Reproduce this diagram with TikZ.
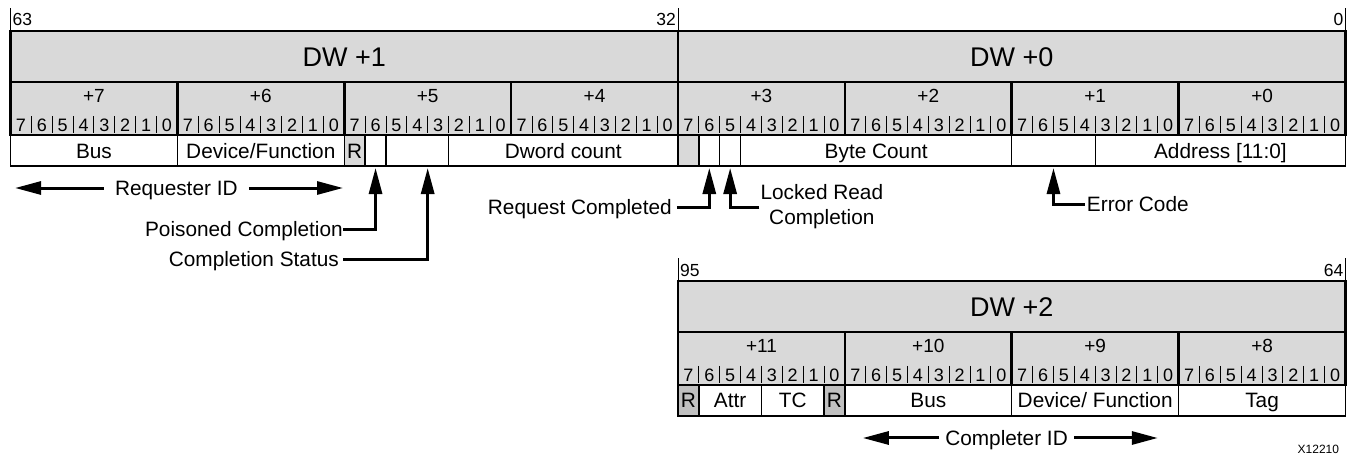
\documentclass[tikz,border=0pt]{standalone}
\usepackage{fontspec}
\setmainfont{Liberation Sans}
\usetikzlibrary{arrows.meta}
\definecolor{hdrgray}{RGB}{217,217,217}
\definecolor{rsvgray}{RGB}{192,192,192}

\tikzset{
  hdr/.style={fill=hdrgray, line width=2.6pt},
  fld/.style={line width=1.3pt},
  rsvd/.style={fld, fill=hdrgray},
  rsvdark/.style={fld, fill=rsvgray},
  bitsep/.style={line width=0.9pt},
  tick/.style={line width=1pt},
  conn/.style={line width=3pt, -{Triangle[length=26pt,width=13pt]}},
  dwtxt/.style={font=\fontsize{27}{32}\selectfont},
  bytetxt/.style={font=\fontsize{19}{22}\selectfont},
  bittxt/.style={font=\fontsize{18}{20}\selectfont, inner sep=0pt},
  lbltxt/.style={font=\fontsize{20.8}{25}\selectfont, inner sep=0pt},
  fldtxt/.style={lbltxt, text height=15pt, text depth=0pt},
  endtxt/.style={font=\fontsize{17.5}{20}\selectfont, inner sep=2pt},
}

\begin{document}
\begin{tikzpicture}[x=20.86pt, y=-1pt]
\useasboundingbox ([xshift=-10.5pt]0,0) rectangle ([xshift=10.5pt]64,456);

% Bit range markers
\draw[tick] (0,8) -- (0,31);
\draw[tick] (32,8) -- (32,31);
\draw[tick] (64,8) -- (64,31);
\node[endtxt, anchor=west] (b63) at (0,19) {63};
\node[endtxt, anchor=east] (b32) at (32,19) {32};
\node[endtxt, anchor=east] (b0) at (64,19) {0};

% DW +1 and DW +0
\draw[hdr] (0,31) rectangle (32,82);
\draw[hdr] (32,31) rectangle (64,82);
\node[dwtxt] (dw1) at (16,57) {DW +1};
\node[dwtxt] (dw0) at (48,57) {DW +0};

% Byte and bit numbers
\draw[hdr] (0,82) rectangle (64,135);
\foreach \b in {8,16,...,56} \draw[line width=2.6pt] (\b,82) -- (\b,135);
\foreach \i in {0,...,7} {
  \pgfmathtruncatemacro{\n}{7-\i}
  \node[bytetxt] (tbyte\n) at (\i*8+4,96) {+\n};
}
\foreach \c in {0,...,63} {
  \pgfmathtruncatemacro{\d}{7-mod(\c,8)}
  \node[bittxt] (tbit\c) at (\c+0.5,125) {\d};
}
\foreach \c in {1,...,63} {
  \pgfmathtruncatemacro{\m}{mod(\c,8)}
  \ifnum\m>0 \draw[bitsep] (\c,116) -- (\c,133); \fi
}

% Fields, DW +1
\draw[fld] (0,135) rectangle (8,166);
\draw[fld] (8,135) rectangle (16,166);
\draw[rsvd] (16,135) rectangle (17,166);
\draw[fld] (17,135) rectangle (18,166);
\draw[fld] (18,135) rectangle (21,166);
\draw[fld] (21,135) rectangle (32,166);
\node[fldtxt] (bus1) at (4,150.5) {Bus};
\node[fldtxt] (devfn1) at (12,150.5) {Device/Function};
\node[fldtxt] (rsv1) at (16.5,150.5) {R};
\node[fldtxt] (dwcnt) at (26.5,150.5) {Dword count};

% Fields, DW +0
\draw[rsvd] (32,135) rectangle (33,166);
\draw[fld] (33,135) rectangle (34,166);
\draw[fld] (34,135) rectangle (35,166);
\draw[fld] (35,135) rectangle (48,166);
\draw[fld] (48,135) rectangle (52,166);
\draw[fld] (52,135) rectangle (64,166);
\node[fldtxt] (bytecnt) at (41.5,150.5) {Byte Count};
\node[fldtxt] (addr) at (58,150.5) {Address [11:0]};

% Arrow targets
\coordinate (poisb) at (17.5,168);
\coordinate (statb) at (20,168);
\coordinate (reqb) at (33.5,168);
\coordinate (lockb) at (34.5,168);
\coordinate (errb) at (50,168);
\coordinate (reqL) at (0.22,188);
\coordinate (reqR) at (15.94,188);

% Labels and connectors
\node[fldtxt, inner xsep=11pt] (reqid) at (7.95,188) {Requester ID};
\draw[conn] (reqid.west) -- (reqL);
\draw[conn] (reqid.east) -- (reqR);
\node[fldtxt, anchor=east] (poison) at (15.94,229) {Poisoned Completion};
\draw[conn] (poison.east) -| (poisb);
\node[fldtxt, anchor=east, inner xsep=4pt] (cstat) at (15.94,259) {Completion Status};
\draw[conn] (cstat.east) -| (statb);
\node[fldtxt, anchor=east, inner xsep=5pt] (reqdone) at (31.95,207) {Request Completed};
\draw[conn] (reqdone.east) -| (reqb);
\node[lbltxt, anchor=west, align=center, inner xsep=1pt] (locked) at (35.9,207) {Locked Read\\Completion};
\draw[conn] (locked.west) -| (lockb);
\node[fldtxt, anchor=west, inner xsep=2pt] (errc) at (51.5,204) {Error Code};
\draw[conn] (errc.west) -| (errb);

% DW +2
\draw[tick] (32,258) -- (32,281);
\draw[tick] (64,258) -- (64,281);
\node[endtxt, anchor=west] (b95) at (32,270) {95};
\node[endtxt, anchor=east] (b64) at (64,270) {64};
\draw[hdr] (32,281) rectangle (64,332);
\node[dwtxt] (dw2) at (48,307) {DW +2};
\draw[hdr] (32,332) rectangle (64,385);
\foreach \b in {40,48,56} \draw[line width=2.6pt] (\b,332) -- (\b,385);
\foreach \i in {0,...,3} {
  \pgfmathtruncatemacro{\n}{11-\i}
  \node[bytetxt] (bbyte\n) at (32+\i*8+4,346) {+\n};
}
\foreach \c in {32,...,63} {
  \pgfmathtruncatemacro{\d}{7-mod(\c,8)}
  \node[bittxt] (bbit\c) at (\c+0.5,375) {\d};
}
\foreach \c in {33,...,63} {
  \pgfmathtruncatemacro{\m}{mod(\c,8)}
  \ifnum\m>0 \draw[bitsep] (\c,366) -- (\c,383); \fi
}

% Fields, DW +2
\draw[rsvdark] (32,385) rectangle (33,416);
\draw[fld] (33,385) rectangle (36,416);
\draw[fld] (36,385) rectangle (39,416);
\draw[rsvdark] (39,385) rectangle (40,416);
\draw[fld] (40,385) rectangle (48,416);
\draw[fld] (48,385) rectangle (56,416);
\draw[fld] (56,385) rectangle (64,416);
\node[fldtxt] (rsv2) at (32.5,400.5) {R};
\node[fldtxt] (attr) at (34.5,400.5) {Attr};
\node[fldtxt] (tc) at (37.5,400.5) {TC};
\node[fldtxt] (rsv3) at (39.5,400.5) {R};
\node[fldtxt] (bus2) at (44,400.5) {Bus};
\node[fldtxt] (devfn2) at (52,400.5) {Device/ Function};
\node[fldtxt] (tag) at (60,400.5) {Tag};

% Completer ID
\coordinate (cplL) at (40.86,438);
\coordinate (cplR) at (55.0,438);
\node[fldtxt, inner xsep=6pt] (cplid) at (47.75,438) {Completer ID};
\draw[conn] (cplid.west) -- (cplL);
\draw[conn] (cplid.east) -- (cplR);

\node[font=\fontsize{12}{14}\selectfont] (fignum) at (62.7,449) {X12210};
\end{tikzpicture}
\end{document}
